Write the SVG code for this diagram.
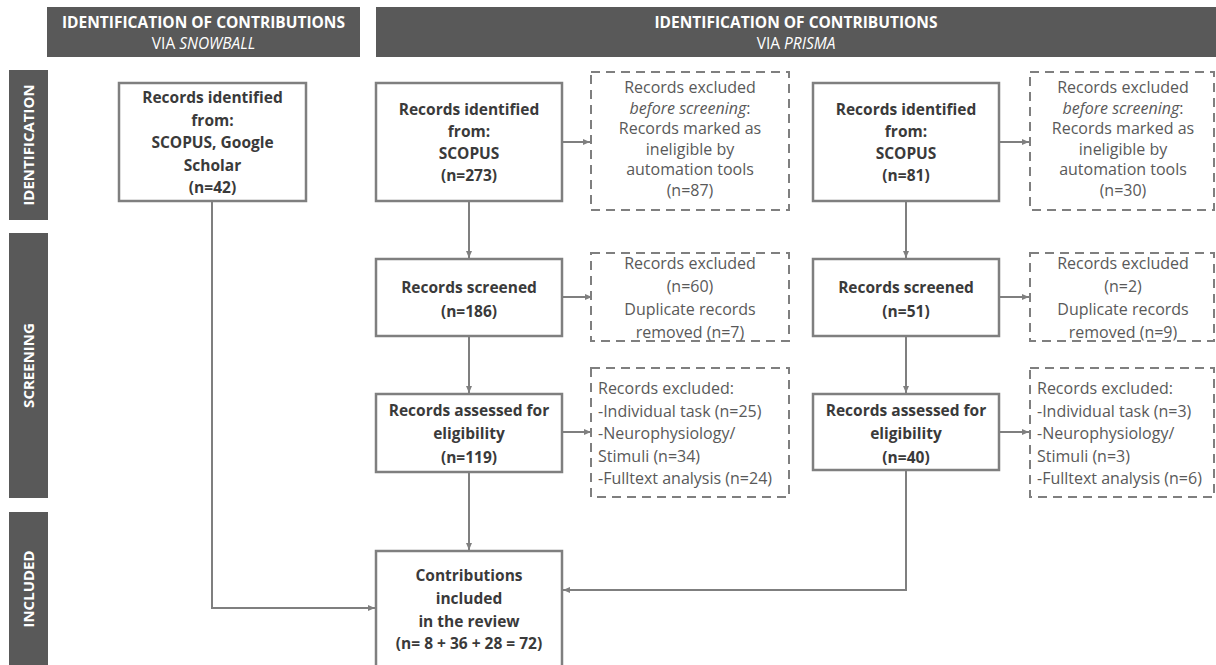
<svg xmlns="http://www.w3.org/2000/svg" width="1216" height="665" viewBox="0 0 1216 665">
<style>
  .hdr { fill: #595959; }
  .hdrt { fill: #ffffff; font-family: "Open Sans", "Liberation Sans", sans-serif; font-size: 15.5px; text-anchor: middle; }
  .side { font-family: "Open Sans", "Liberation Sans", sans-serif; font-size: 15px; font-weight: bold; fill: #ffffff; text-anchor: middle; }
  .box { fill: #ffffff; stroke: #7f7f7f; stroke-width: 2.5; }
  .dbox { fill: #ffffff; stroke: #7f7f7f; stroke-width: 2; stroke-dasharray: 9 6; }
  .bt { font-family: "Open Sans", "Liberation Sans", sans-serif; font-size: 15.5px; font-weight: bold; fill: #3a3a3a; text-anchor: middle; }
  .dt { font-family: "Open Sans", "Liberation Sans", sans-serif; font-size: 16px; fill: #595959; text-anchor: middle; }
  .lt { font-family: "Open Sans", "Liberation Sans", sans-serif; font-size: 16px; fill: #595959; }
  .conn { fill: none; stroke: #7f7f7f; stroke-width: 2; }
</style>
<defs>
  <marker id="arr" markerUnits="userSpaceOnUse" markerWidth="8" markerHeight="8" refX="7" refY="4" orient="auto">
    <path d="M0,1 L7,4 L0,7 Z" fill="#7f7f7f"/>
  </marker>
</defs>

<g id="headers">
  <g id="hdr-snowball">
    <rect class="hdr" x="47" y="7" width="313" height="50"/>
    <text class="hdrt" x="203.5" y="28" font-weight="bold">IDENTIFICATION OF CONTRIBUTIONS</text>
    <text class="hdrt" x="203.5" y="49">VIA <tspan font-style="italic">SNOWBALL</tspan></text>
  </g>
  <g id="hdr-prisma">
    <rect class="hdr" x="376" y="7" width="840" height="50"/>
    <text class="hdrt" x="796" y="28" font-weight="bold">IDENTIFICATION OF CONTRIBUTIONS</text>
    <text class="hdrt" x="796" y="49">VIA <tspan font-style="italic">PRISMA</tspan></text>
  </g>
</g>

<g id="sidebar">
  <g id="side-identification">
    <rect class="hdr" x="9" y="70" width="39" height="150"/>
    <text class="side" transform="translate(34,145) rotate(-90)">IDENTIFICATION</text>
  </g>
  <g id="side-screening">
    <rect class="hdr" x="9" y="233" width="39" height="265"/>
    <text class="side" transform="translate(34,365.5) rotate(-90)">SCREENING</text>
  </g>
  <g id="side-included">
    <rect class="hdr" x="9" y="512" width="39" height="153"/>
    <text class="side" transform="translate(34,589) rotate(-90)">INCLUDED</text>
  </g>
</g>

<g id="connectors">
  <path class="conn" d="M212,201 V608 H375" marker-end="url(#arr)"/>
  <path class="conn" d="M469,201 V258" marker-end="url(#arr)"/>
  <path class="conn" d="M469,336 V393" marker-end="url(#arr)"/>
  <path class="conn" d="M469,472 V550" marker-end="url(#arr)"/>
  <path class="conn" d="M562,142 H590" marker-end="url(#arr)"/>
  <path class="conn" d="M562,297 H592" marker-end="url(#arr)"/>
  <path class="conn" d="M562,432 H591" marker-end="url(#arr)"/>
  <path class="conn" d="M906,201 V258" marker-end="url(#arr)"/>
  <path class="conn" d="M906,336 V393" marker-end="url(#arr)"/>
  <path class="conn" d="M999,142 H1029" marker-end="url(#arr)"/>
  <path class="conn" d="M999,297 H1029" marker-end="url(#arr)"/>
  <path class="conn" d="M999,432 H1029" marker-end="url(#arr)"/>
  <path class="conn" d="M906,470 V590 H563" marker-end="url(#arr)"/>
</g>

<g id="n-snowball">
  <rect class="box" x="119" y="83" width="187" height="118"/>
  <text class="bt" x="212.5" y="103">Records identified</text>
  <text class="bt" x="212.5" y="125.5">from:</text>
  <text class="bt" x="212.5" y="148">SCOPUS, Google</text>
  <text class="bt" x="212.5" y="170.5">Scholar</text>
  <text class="bt" x="212.5" y="193">(n=42)</text>
</g>

<g id="n-id1">
  <rect class="box" x="376" y="83" width="186" height="118"/>
  <text class="bt" x="469" y="115">Records identified</text>
  <text class="bt" x="469" y="137">from:</text>
  <text class="bt" x="469" y="159">SCOPUS</text>
  <text class="bt" x="469" y="181">(n=273)</text>
</g>

<g id="n-excl1">
  <rect class="dbox" x="591" y="72" width="198" height="138"/>
  <text class="dt" x="690" y="93">Records excluded</text>
  <text class="dt" x="690" y="113.5"><tspan font-style="italic">before screening</tspan>:</text>
  <text class="dt" x="690" y="134">Records marked as</text>
  <text class="dt" x="690" y="154.5">ineligible by</text>
  <text class="dt" x="690" y="175">automation tools</text>
  <text class="dt" x="690" y="195.5">(n=87)</text>
</g>

<g id="n-scr1">
  <rect class="box" x="376" y="259" width="186" height="77"/>
  <text class="bt" x="469" y="292.5">Records screened</text>
  <text class="bt" x="469" y="316.5">(n=186)</text>
</g>

<g id="n-excl2">
  <rect class="dbox" x="591" y="253" width="198" height="88"/>
  <text class="dt" x="690" y="269">Records excluded</text>
  <text class="dt" x="690" y="292">(n=60)</text>
  <text class="dt" x="690" y="315">Duplicate records</text>
  <text class="dt" x="690" y="338">removed (n=7)</text>
</g>

<g id="n-elig1">
  <rect class="box" x="376" y="394" width="186" height="78"/>
  <text class="bt" x="469" y="415.5">Records assessed for</text>
  <text class="bt" x="469" y="439">eligibility</text>
  <text class="bt" x="469" y="462.5">(n=119)</text>
</g>

<g id="n-excl3">
  <rect class="dbox" x="591" y="368" width="198" height="129"/>
  <text class="lt" x="598" y="394">Records excluded:</text>
  <text class="lt" x="598" y="417">-Individual task (n=25)</text>
  <text class="lt" x="598" y="439">-Neurophysiology/</text>
  <text class="lt" x="598" y="462">Stimuli (n=34)</text>
  <text class="lt" x="598" y="484">-Fulltext analysis (n=24)</text>
</g>

<g id="n-id2">
  <rect class="box" x="813" y="83" width="186" height="118"/>
  <text class="bt" x="906" y="115">Records identified</text>
  <text class="bt" x="906" y="137">from:</text>
  <text class="bt" x="906" y="159">SCOPUS</text>
  <text class="bt" x="906" y="181">(n=81)</text>
</g>

<g id="n-excl4">
  <rect class="dbox" x="1030" y="72" width="184" height="138"/>
  <text class="dt" x="1123" y="93">Records excluded</text>
  <text class="dt" x="1123" y="113.5"><tspan font-style="italic">before screening</tspan>:</text>
  <text class="dt" x="1123" y="134">Records marked as</text>
  <text class="dt" x="1123" y="154.5">ineligible by</text>
  <text class="dt" x="1123" y="175">automation tools</text>
  <text class="dt" x="1123" y="195.5">(n=30)</text>
</g>

<g id="n-scr2">
  <rect class="box" x="813" y="259" width="186" height="77"/>
  <text class="bt" x="906" y="292.5">Records screened</text>
  <text class="bt" x="906" y="316.5">(n=51)</text>
</g>

<g id="n-excl5">
  <rect class="dbox" x="1030" y="253" width="184" height="88"/>
  <text class="dt" x="1123" y="269">Records excluded</text>
  <text class="dt" x="1123" y="292">(n=2)</text>
  <text class="dt" x="1123" y="315">Duplicate records</text>
  <text class="dt" x="1123" y="338">removed (n=9)</text>
</g>

<g id="n-elig2">
  <rect class="box" x="813" y="394" width="186" height="76"/>
  <text class="bt" x="906" y="415.5">Records assessed for</text>
  <text class="bt" x="906" y="439">eligibility</text>
  <text class="bt" x="906" y="462.5">(n=40)</text>
</g>

<g id="n-excl6">
  <rect class="dbox" x="1030" y="368" width="184" height="129"/>
  <text class="lt" x="1037" y="394">Records excluded:</text>
  <text class="lt" x="1037" y="417">-Individual task (n=3)</text>
  <text class="lt" x="1037" y="439">-Neurophysiology/</text>
  <text class="lt" x="1037" y="462">Stimuli (n=3)</text>
  <text class="lt" x="1037" y="484">-Fulltext analysis (n=6)</text>
</g>

<g id="n-included">
  <rect class="box" x="376" y="551" width="186" height="120"/>
  <text class="bt" x="469" y="580.5">Contributions</text>
  <text class="bt" x="469" y="603.5">included</text>
  <text class="bt" x="469" y="626.5">in the review</text>
  <text class="bt" x="469" y="649">(n= 8 + 36 + 28 = 72)</text>
</g>
</svg>
